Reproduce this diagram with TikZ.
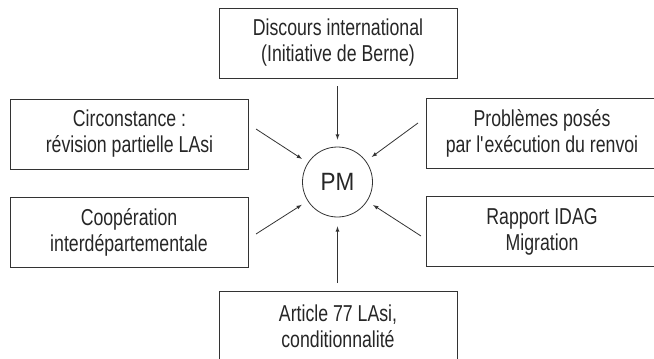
\documentclass[tikz,border=0pt]{standalone}
\usepackage{fontspec}
\setmainfont{Liberation Sans}[FakeStretch=0.77]
\newfontfamily\pmfont{Liberation Sans}[FakeStretch=0.9]
\begin{document}
\begin{tikzpicture}[x=1pt, y=-1pt, line width=.8pt, every node/.style={draw=black!80, align=center, text=black!85, font=\fontsize{23}{26}\selectfont},
	box/.style={rectangle, minimum width=238pt, minimum height=70pt, inner sep=0pt},
	arr/.style={draw=black!80, -latex, shorten >=7pt}]
			\useasboundingbox (0,0) rectangle (654,359);
			\clip (0,0) rectangle (654,359);
			\node[box] (berne) at (338, 43) {Discours international\\(Initiative de Berne)};
			\node[box] (lasi) at (129.5, 134) {Circonstance :\\révision partielle LAsi};
			\node[box, minimum width=232pt] (renvoi) at (542, 133.5) {Problèmes posés\\par l\textquotesingle exécution du renvoi};
			\node[box] (coop) at (129, 232) {Coopération\\interdépartementale};
			\node[box, minimum width=232pt] (idag) at (542, 231.5) {Rapport IDAG\\Migration};
			\node[box] (art) at (338, 326) {Article 77 LAsi,\\conditionnalité};
			\node[circle, minimum size=70pt, inner sep=0pt, font=\pmfont\fontsize{25}{26}\selectfont] (pm) at (337.5, 182) {PM};
			\coordinate (a1) at (337.5, 86);
			\coordinate (a2) at (256, 129);
			\coordinate (a3) at (418, 123);
			\coordinate (a4) at (256, 234);
			\coordinate (a5) at (421, 236);
			\coordinate (a6) at (337.5, 283);
			\draw[arr] (a1) to (pm);
			\draw[arr] (a2) to (pm);
			\draw[arr] (a3) to (pm);
			\draw[arr] (a4) to (pm);
			\draw[arr] (a5) to (pm);
			\draw[arr, shorten >=9pt] (a6) to (pm);
			\end{tikzpicture}
\end{document}
